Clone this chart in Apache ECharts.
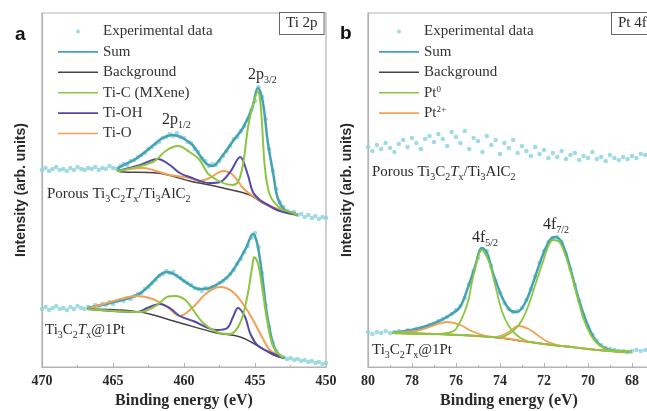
<!DOCTYPE html>
<html>
<head>
<meta charset="utf-8">
<script src="https://cdn.jsdelivr.net/npm/echarts@6/dist/echarts.min.js"></script>
<style>
  html, body { margin: 0; padding: 0; background: #fff; }
  #main { width: 647px; height: 411px; }
</style>
</head>
<body>
<div id="main"></div>
<script>
// ---- data (intensity in arb. units) ----
// panel a: Ti 2p
const energyA = [470,469.75,469.5,469.25,469,468.75,468.5,468.25,468,467.75,467.5,467.25,467,466.75,466.5,466.25,466,465.75,465.5,465.25,
  465,464.75,464.5,464.25,464,463.75,463.5,463.25,463,462.75,462.5,462.25,462,461.75,461.5,461.25,461,460.75,460.5,460.25,
  460,459.75,459.5,459.25,459,458.75,458.5,458.25,458,457.75,457.5,457.25,457,456.75,456.5,456.25,456,455.75,455.5,455.25,
  455,454.75,454.5,454.25,454,453.75,453.5,453.25,453,452.75,452.5,452.25,452,451.75,451.5,451.25,451,450.75,450.5,450.25,450];
const expATop = [197,199,196,198,200,197,198,196,199,197,200,198,197,199,198,200,197,199,198,201,
  199,198,201,203,202,206,207,210,212,214,218,220,223,225,229,230,233,231,234,230,
  229,225,224,218,215,209,206,201,203,202,206,211,216,221,228,230,236,241,248,257,
  266,280,270,248,218,196,178,165,160,156,154,155,152,153,150,152,149,151,148,150,149];
const expABot = [58,60,57,59,61,58,59,57,60,58,61,59,58,60,59,62,61,63,62,65,
  63,66,67,66,69,68,71,73,74,78,80,84,87,91,93,96,94,95,91,89,
  86,84,82,79,78,76,79,77,80,81,84,86,89,93,97,103,108,115,121,129,
  134,120,94,62,40,24,16,11,10,8,9,7,8,6,7,5,6,4,5,3,4];

const sumATop = [[464.7,198],[464.5,200],[463.3,209],[462.4,219],[461.5,229],[460.8,232],[460.1,229],[459.4,222],[458.9,212],[458.4,203],[458.0,201],[457.25,212],[456.55,226],[455.85,239],[455.2,259],[454.8,279],[454.45,265],[454.1,225],[453.7,192],[453.4,169],[452.9,157],[452.3,154],[452.0,152]];
const bgATop = [[464.7,196],[464.3,195],[461.9,194],[459.6,186],[457.25,179],[455.35,172],[454.45,164],[453.45,157],[452.55,154],[452.0,152]];
const tiCTop = [[464.7,196],[464.3,197],[462.2,205],[461.2,217],[460.4,221],[459.6,215],[458.9,207],[458.2,192],[456.6,182],[456.2,185],[455.85,202],[455.5,239],[455.15,262],[454.8,275],[454.65,268],[454.5,242],[454.3,199],[453.95,172],[453.25,159],[452.55,155],[452.0,152]];
const tiOHTop = [[464.7,196],[463.1,202],[461.85,208],[461.0,202],[460.3,194],[459.6,190],[458.2,184],[457.45,185],[456.75,195],[456.05,210],[455.5,192],[455.15,175],[454.65,167],[453.95,161],[453.25,156],[452.0,152]];
const tiOTop = [[464.7,196],[462.9,199],[462.2,197],[461.0,192],[459.6,189],[458.9,186],[458.2,189],[457.25,196],[456.55,192],[455.85,179],[455.15,171],[454.15,162.5],[453.0,156],[452.0,152]];

const sumABot = [[466.8,59],[465.2,64],[463.3,72],[462.4,82],[461.7,92],[461.2,95],[460.6,92],[459.8,84],[458.9,78],[458.2,79],[457.5,84],[456.8,92],[456.1,107],[455.6,120],[455.15,133],[454.85,124],[454.5,92],[454.15,52],[453.7,22],[453.25,11],[452.9,9]];
const bgABot = [[466.8,58],[463.1,55],[460.5,45],[457.7,34],[456.05,30],[454.65,20],[453.7,12],[453.0,9]];
const tiCBot = [[466.8,58],[463.1,55],[461.9,62],[461.2,70],[460.6,71],[459.9,67],[459.35,57],[458.65,44],[457.7,35],[456.75,33],[456.05,44],[455.55,70],[455.2,100],[455.05,110],[454.8,104],[454.5,80],[454.15,47],[453.7,20],[453.0,9]];
const tiOHBot = [[466.8,58],[463.3,55],[462.6,59],[461.7,63],[461.0,59],[460.3,51],[459.35,46],[457.7,37],[456.95,39],[456.55,50],[456.2,59],[455.7,50],[455.35,34],[454.85,22],[454.15,16],[453.0,9]];
const tiOBot = [[466.8,58],[465.2,65],[463.3,71],[462.2,68],[461.2,60],[460.3,51],[459.35,60],[458.4,74],[457.45,80],[456.55,75],[455.55,57],[454.65,34],[453.95,17],[453.0,9]];

// panel b: Pt 4f
const energyB = [80,79.8,79.6,79.4,79.2,79,78.8,78.6,78.4,78.2,78,77.8,77.6,77.4,77.2,77,76.8,76.6,76.4,76.2,
  76,75.8,75.6,75.4,75.2,75,74.8,74.6,74.4,74.2,74,73.8,73.6,73.4,73.2,73,72.8,72.6,72.4,72.2,
  72,71.8,71.6,71.4,71.2,71,70.8,70.6,70.4,70.2,70,69.8,69.6,69.4,69.2,69,68.8,68.6,68.4,68.2,
  68,67.8,67.6,67.4];
const expBTop = [220,216,222,218,224,219,215,223,227,220,229,224,218,228,231,225,233,228,221,235,
  230,224,236,218,229,226,215,231,222,227,213,224,219,227,214,221,216,211,220,213,
  217,209,214,210,216,208,212,214,207,211,209,215,208,210,206,212,209,207,210,208,
  211,209,213,212];
const expBBot = [35,33,35,34,36,34,35,36,35,37,36,38,39,40,42,43,46,48,50,53,
  57,61,69,83,96,109,118,116,101,86,74,64,58,55,56,59,67,78,91,104,
  116,125,129,130,125,113,98,82,66,52,40,32,26,22,19,18,17,16,16,15,
  16,17,16,17];
const sumB = [[78.9,34],[77.64,39],[76.86,45],[76.27,52],[75.82,60],[75.45,80],[75.14,100],[74.82,119],[74.59,114],[74.32,94],[73.91,70],[73.55,57],[73.23,55],[72.86,64],[72.5,84],[72.09,110],[71.73,127],[71.5,130],[71.18,124],[70.82,100],[70.45,70],[70.05,44],[69.59,25],[69.0,17],[68.0,15]];
const bgB = [[78.9,34],[77,33],[75,31],[74,29],[73,26],[72,23],[71,20.5],[70,18],[69,16],[68,15]];
const pt0F52 = [[78.9,34],[77,33],[76.4,34],[76,38],[75.5,62],[75.2,92],[74.82,117],[74.5,105],[74.2,80],[73.9,55],[73.6,41],[73.3,33],[72.9,27],[72.5,24.5],[72,23],[71,20.5],[70,18],[69,16],[68,15]];
const pt0F72 = [[78.9,34],[77,33],[75,31],[74,29.5],[73.6,33],[73.3,38],[73,47],[72.7,62],[72.4,82],[72.05,105],[71.8,121],[71.6,127],[71.3,125],[71.0,110],[70.7,88],[70.45,67],[70.2,48],[69.9,33],[69.6,24],[69.2,18],[68.8,16.5],[68,15]];
const pt2F52 = [[78.9,34],[77.8,36],[77.2,40],[76.4,45],[75.8,42],[75.3,36],[74.8,32],[74.3,30],[73.5,28],[73,26],[72,23],[71,20.5],[70,18],[69,16],[68,15]];
const pt2F72 = [[78.9,34],[77,33],[75,31],[74.4,30],[74,31],[73.6,35],[73.15,41],[72.7,38],[72.3,32],[71.9,26],[71.4,22],[70.9,20.5],[70,18],[69,16],[68,15]];

const legendA = ['Experimental data', 'Sum', 'Background', 'Ti-C (MXene)', 'Ti-OH', 'Ti-O'];
const legendB = ['Experimental data', 'Sum', 'Background', 'Pt0', 'Pt2+'];

// ---- styles ----
const C = {
  exp: '#8fd5de', sum: '#45a2b3', bg: '#4b4242',
  green: '#8cc641', purple: '#5549a9', orange: '#f1a156',
  frame: '#b3b3b3', text: '#2a2a2a'
};
const serif = 'Liberation Serif';
// legend icons: the M points fix the bounding box so the mark sits centred in a 40x14 cell
const dotIcon = 'path://M0,0M40,14M18,7a2,2 0 1,0 4,0a2,2 0 1,0 -4,0z';
const lineIcon = 'path://M0,0M40,14M0,6.2L40,6.2L40,7.8L0,7.8z';

function pairs(xs, ys) { return xs.map((x, i) => [x, ys[i]]); }

function curve(name, data, color, width, g) {
  return {
    name: name, type: 'line', xAxisIndex: g, yAxisIndex: g, data: data,
    smooth: 0.35, symbol: 'none', lineStyle: { color: color, width: width },
    itemStyle: { color: color }
  };
}
function dots(data, g) {
  return {
    name: 'Experimental data', type: 'scatter', xAxisIndex: g, yAxisIndex: g, data: data,
    symbolSize: 4.5, itemStyle: { color: C.exp, opacity: 0.85 }
  };
}

function xAx(g, min, max, interval, namePad) {
  return {
    gridIndex: g, type: 'value', inverse: true, min: min, max: max, interval: interval,
    axisLine: { lineStyle: { color: C.frame, width: 1.2 } },
    axisTick: { inside: true, length: 4, lineStyle: { color: C.frame } },
    minorTick: { show: true, splitNumber: 2, length: 2, lineStyle: { color: C.frame } },
    splitLine: { show: false },
    axisLabel: { fontFamily: serif, fontWeight: 'bold', fontSize: 14, color: C.text, margin: 7 },
    name: 'Binding energy (eV)', nameLocation: 'middle', nameGap: 26,
    nameTextStyle: { fontFamily: serif, fontWeight: 'bold', fontSize: 16, color: C.text, padding: namePad }
  };
}
function yAx(g) {
  return {
    gridIndex: g, type: 'value', min: 0, max: 354,
    axisLine: { show: true, lineStyle: { color: C.frame, width: 1.2 } },
    axisTick: { show: false }, axisLabel: { show: false }, splitLine: { show: false },
    name: 'Intensity (arb. units)', nameLocation: 'middle', nameGap: 14,
    nameTextStyle: { fontFamily: 'Liberation Sans', fontWeight: 'bold', fontSize: 14, color: C.text }
  };
}

function legend(left, names) {
  return {
    orient: 'vertical', left: left, top: 19, itemWidth: 40, itemHeight: 14, itemGap: 5.4,
    selectedMode: false,
    data: names.map(n => ({ name: n, icon: n === 'Experimental data' ? dotIcon : lineIcon })),
    formatter: n => n === 'Pt0' ? 'Pt{sup|0}' : n === 'Pt2+' ? 'Pt{sup|2+}' : n,
    textStyle: {
      fontFamily: serif, fontSize: 15, color: '#333',
      rich: { sup: { fontFamily: serif, fontSize: 9, verticalAlign: 'top', color: '#333' } }
    }
  };
}

const richBase = {
  sub: { fontFamily: serif, fontSize: 10, verticalAlign: 'bottom', lineHeight: 10, fill: C.text },
  it: { fontFamily: serif, fontSize: 15, fontStyle: 'italic', fill: C.text }
};
function label(x, y, text, size) {
  return {
    type: 'text', x: x, y: y, z: 50,
    style: {
      text: text, fontFamily: serif, fontSize: size || 15, fill: C.text,
      lineHeight: 20, verticalAlign: 'middle', rich: richBase
    }
  };
}
function box(x, text) {
  return {
    type: 'text', x: x, y: 13, z: 50,
    style: {
      text: text, fontFamily: serif, fontSize: 15, fill: C.text,
      backgroundColor: '#fff', borderColor: '#666', borderWidth: 1, padding: [3, 6, 3, 6]
    }
  };
}

const porous = 'Porous Ti{sub|3}C{sub|2}{it|T}{sub|x}/Ti{sub|3}AlC{sub|2}';
const loaded = 'Ti{sub|3}C{sub|2}{it|T}{sub|x}@1Pt';

const chart = echarts.init(document.getElementById('main'));
const option = {
  animation: false,
  backgroundColor: '#fff',
  grid: [
    { left: 42, top: 13, width: 284, height: 354, show: true, borderColor: C.frame, borderWidth: 1.2, outerBoundsMode: 'none' },
    // panel b runs past the right edge of the picture, as in the original
    { left: 368, top: 13, width: 308, height: 354, show: true, borderColor: C.frame, borderWidth: 1.2, outerBoundsMode: 'none' }
  ],
  xAxis: [xAx(0, 450, 470, 5, 0), xAx(1, 66, 80, 2, [0, 26, 0, 0])],
  yAxis: [yAx(0), yAx(1)],
  legend: [legend(53, legendA), legend(374, legendB)],
  series: [
    dots(pairs(energyA, expATop), 0),
    dots(pairs(energyA, expABot), 0),
    curve('Sum', sumATop, C.sum, 2.5, 0),
    curve('Sum', sumABot, C.sum, 2.5, 0),
    curve('Background', bgATop, C.bg, 1.5, 0),
    curve('Background', bgABot, C.bg, 1.5, 0),
    curve('Ti-O', tiOTop, C.orange, 2, 0),
    curve('Ti-O', tiOBot, C.orange, 2, 0),
    curve('Ti-OH', tiOHTop, C.purple, 2, 0),
    curve('Ti-OH', tiOHBot, C.purple, 2, 0),
    curve('Ti-C (MXene)', tiCTop, C.green, 2, 0),
    curve('Ti-C (MXene)', tiCBot, C.green, 2, 0),

    dots(pairs(energyB, expBTop), 1),
    dots(pairs(energyB, expBBot), 1),
    curve('Sum', sumB, C.sum, 2.5, 1),
    curve('Background', bgB, C.bg, 1.5, 1),
    curve('Pt2+', pt2F52, C.orange, 1.8, 1),
    curve('Pt2+', pt2F72, C.orange, 1.8, 1),
    curve('Pt0', pt0F52, C.green, 1.8, 1),
    curve('Pt0', pt0F72, C.green, 1.8, 1)
  ],
  graphic: [
    { type: 'text', x: 15, y: 25, style: { text: 'a', fontFamily: 'Liberation Sans', fontWeight: 'bold', fontSize: 19, fill: '#111' } },
    { type: 'text', x: 340, y: 24, style: { text: 'b', fontFamily: 'Liberation Sans', fontWeight: 'bold', fontSize: 19, fill: '#111' } },
    box(280, 'Ti 2p'),
    box(612, 'Pt 4f'),
    label(248, 75, '2p{sub|3/2}', 16),
    label(162, 120, '2p{sub|1/2}', 16),
    label(47, 194, porous),
    label(45, 330, loaded),
    label(372, 172, porous),
    label(372, 350, loaded),
    label(472, 238, '4f{sub|5/2}', 16),
    label(543, 225, '4f{sub|7/2}', 16)
  ]
};
chart.setOption(option);
</script>
</body>
</html>
